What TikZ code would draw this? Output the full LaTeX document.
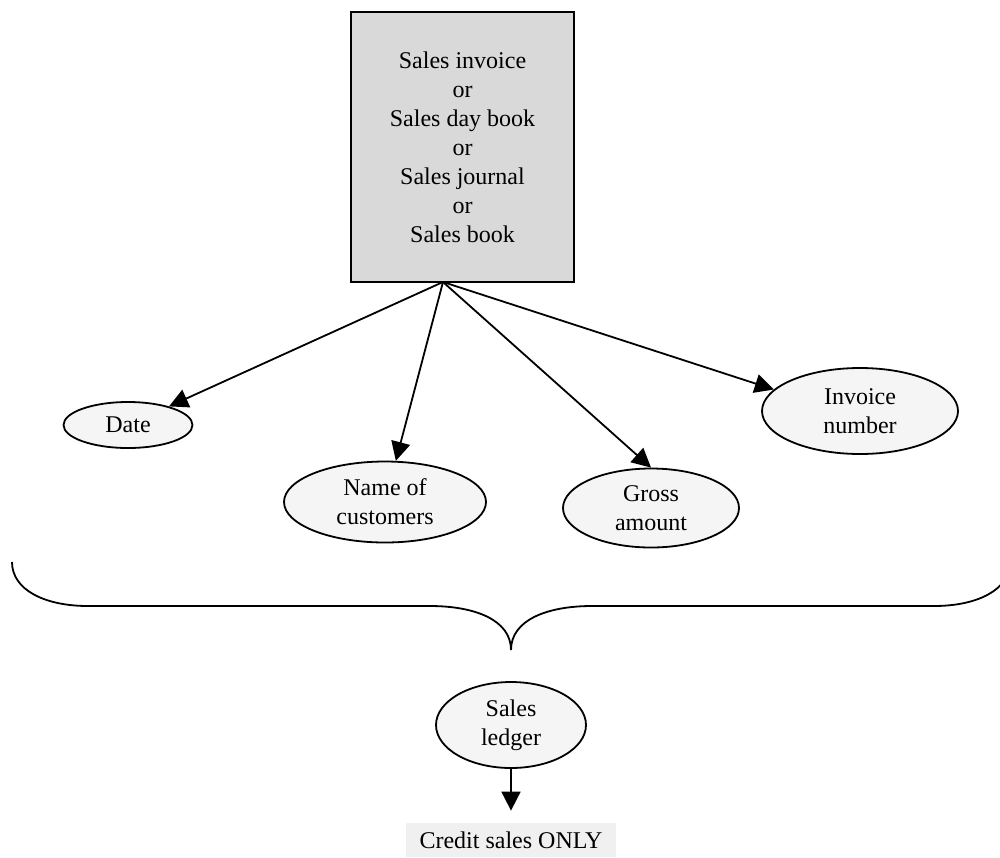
\documentclass[tikz,border=0pt]{standalone}
\usepackage{fontspec}
\setmainfont{Liberation Serif}
\usetikzlibrary{arrows.meta,shapes.geometric}
\definecolor{boxgray}{HTML}{D9D9D9}
\definecolor{ellgray}{HTML}{F5F5F5}
\definecolor{credgray}{HTML}{F0F0F0}
\tikzset{
  txt/.style={font=\fontsize{12}{14.5}\selectfont, align=center, text=black},
  srcbox/.style={txt, draw=black, line width=0.9pt, fill=boxgray, rectangle, inner sep=0pt},
  oval/.style={txt, ellipse, draw=black, line width=0.9pt, fill=ellgray, inner sep=0pt},
  credbox/.style={txt, rectangle, fill=credgray, inner sep=0pt},
  conn/.style={line width=0.9pt, draw=black, -{Triangle[length=9.5pt,width=9.5pt]}},
  bracestyle/.style={line width=0.9pt, draw=black}
}
\begin{document}
\begin{tikzpicture}[x=0.5pt,y=-0.5pt]
\useasboundingbox (0,0) rectangle (1000,857);
\node[srcbox, minimum width=111.5pt, minimum height=135pt] (src) at (462.5,147)
  {Sales invoice\\or\\Sales day book\\or\\Sales journal\\or\\Sales book};
\coordinate (fork) at (443,282);
\node[oval, minimum width=64.5pt, minimum height=23pt] (date) at (128,425) {Date};
\node[oval, minimum width=101pt, minimum height=40.5pt] (name) at (385,502) {Name of\\customers};
\node[oval, minimum width=88pt, minimum height=39.5pt] (gross) at (651,508) {Gross\\amount};
\node[oval, minimum width=98pt, minimum height=43pt] (invoice) at (860,411) {Invoice\\number};
\node[oval, minimum width=75pt, minimum height=43pt] (ledger) at (511,725) {Sales\\ledger};
\node[credbox, minimum width=105pt, minimum height=17pt] (credit) at (511,840) {Credit sales ONLY};
\draw[conn] (fork) -- (date);
\draw[conn] (fork) -- (name);
\draw[conn] (fork) -- (gross.north);
\draw[conn] (fork) -- (invoice.166);
\draw[conn, shorten >=6pt] (ledger.south) -- (credit.north);
\begin{scope}
\clip (0,0) rectangle (1000,857);
\draw[bracestyle] (12,562) .. controls (12,590) and (45,606) .. (88,606) -- (430,606)
  .. controls (475,606) and (511,620) .. (511,650)
  .. controls (511,620) and (547,606) .. (592,606) -- (934,606)
  .. controls (977,606) and (1010,590) .. (1010,562);
\end{scope}
\end{tikzpicture}
\end{document}
